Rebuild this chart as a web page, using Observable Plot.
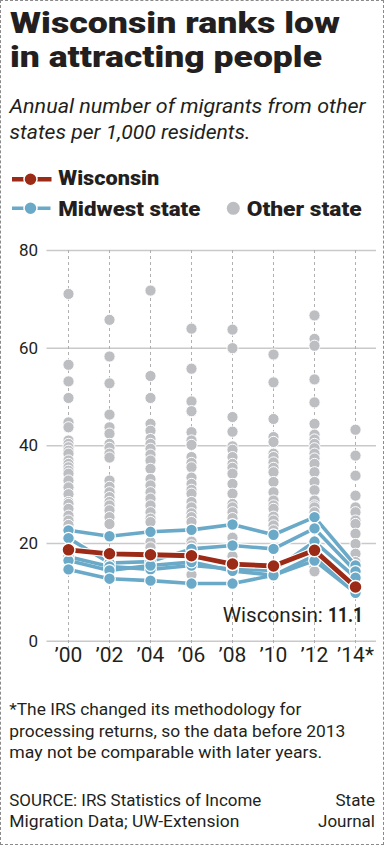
<!DOCTYPE html>
<html><head><meta charset="utf-8">
<script src="https://cdn.jsdelivr.net/npm/d3@7"></script>
<script src="https://cdn.jsdelivr.net/npm/@observablehq/plot@0.6"></script>
<style>
body{margin:0;background:#fff;}
#wrap{position:relative;width:385px;height:846px;overflow:hidden;font-family:Roboto,"Liberation Sans",sans-serif;color:#231f20;background:#fff;}
#border{position:absolute;left:0;top:0;width:382px;height:843px;border:1px dashed #8a8a8a;pointer-events:none;}
svg text{font-family:Roboto,"Liberation Sans",sans-serif;fill:#231f20;}
</style></head><body>
<div id="wrap">
<svg id="head" width="385" height="240" style="position:absolute;left:0;top:0">
  <text x="10" y="33.3" font-size="29" font-weight="900" textLength="330" lengthAdjust="spacingAndGlyphs">Wisconsin ranks low</text>
  <text x="10" y="66.7" font-size="29" font-weight="900" textLength="312" lengthAdjust="spacingAndGlyphs">in attracting people</text>
  <text x="9.5" y="112.7" font-size="20" font-style="italic" font-weight="400" textLength="356" lengthAdjust="spacingAndGlyphs">Annual number of migrants from other</text>
  <text x="9.5" y="139.3" font-size="20" font-style="italic" font-weight="400" textLength="241" lengthAdjust="spacingAndGlyphs">states per 1,000 residents.</text>
  <line x1="12" x2="51.5" y1="179.3" y2="179.3" stroke="#9b2a17" stroke-width="4.5"/>
  <circle cx="30.5" cy="179.3" r="6.5" fill="#9b2a17" stroke="#fff" stroke-width="1.5"/>
  <text x="58.3" y="185" font-size="21" font-weight="900" textLength="101" lengthAdjust="spacingAndGlyphs">Wisconsin</text>
  <line x1="12" x2="50.5" y1="208.3" y2="208.3" stroke="#6aaac8" stroke-width="3.5"/>
  <circle cx="30.5" cy="208.3" r="6.5" fill="#6aaac8" stroke="#fff" stroke-width="1.5"/>
  <text x="58.3" y="216" font-size="21" font-weight="900" textLength="142" lengthAdjust="spacingAndGlyphs">Midwest state</text>
  <circle cx="233.3" cy="208.3" r="6.5" fill="#bdbec2"/>
  <text x="246.7" y="216" font-size="21" font-weight="900" textLength="115" lengthAdjust="spacingAndGlyphs">Other state</text>
</svg>
<div id="chart" style="position:absolute;left:0;top:240px"></div>
<svg id="foot" width="385" height="166" style="position:absolute;left:0;top:680px">
  <text x="9.3" y="35" font-size="16.5" textLength="292" lengthAdjust="spacingAndGlyphs">*The IRS changed its methodology for</text>
  <text x="9.3" y="56.7" font-size="16.5" textLength="336" lengthAdjust="spacingAndGlyphs">processing returns, so the data before 2013</text>
  <text x="9.3" y="78.3" font-size="16.5" textLength="313" lengthAdjust="spacingAndGlyphs">may not be comparable with later years.</text>
  <text x="9.3" y="126" font-size="17" textLength="252" lengthAdjust="spacingAndGlyphs">SOURCE: IRS Statistics of Income</text>
  <text x="9.3" y="147.3" font-size="17" textLength="230" lengthAdjust="spacingAndGlyphs">Migration Data; UW-Extension</text>
  <text x="375" y="126" font-size="17" text-anchor="end">State</text>
  <text x="375" y="147.3" font-size="17" text-anchor="end">Journal</text>
</svg>
<div id="border"></div>
</div>
<script>
const years = ["’00","’02","’04","’06","’08","’10","’12","’14*"];
const yTicks = [0, 20, 40, 60, 80];

const wisconsin = [18.7, 17.9, 17.7, 17.5, 15.8, 15.4, 18.6, 11.1];

const midwest1 = [22.7, 21.5, 22.4, 22.8, 23.9, 21.8, 25.4, 15.5];
const midwest2 = [21.1, 16.0, 16.3, 18.9, 19.6, 18.9, 23.1, 14.3];
const midwest3 = [17.3, 15.3, 14.7, 15.5, 14.8, 14.5, 20.4, 13.0];
const midwest4 = [16.5, 14.5, 15.5, 16.2, 14.4, 13.5, 17.5, 10.2];
const midwest5 = [14.7, 12.8, 12.4, 11.8, 11.8, 13.5, 16.5, 9.9];

const other00 = [71.1, 56.6, 53.2, 49.8, 44.8, 43.8, 41.1, 40.4, 39.7, 39.0, 38.4, 37.0, 36.3, 35.6, 34.9, 34.3, 32.9, 31.5, 30.1, 28.5, 28.1, 27.1, 25.7, 24.7, 23.8];
const other02 = [65.8, 58.3, 52.8, 46.4, 43.8, 42.5, 40.4, 39.6, 38.4, 37.6, 32.9, 31.6, 30.5, 29.5, 28.5, 27.8, 26.8, 25.4, 24.0];
const other04 = [71.8, 54.3, 49.8, 44.5, 43.1, 41.4, 40.4, 39.4, 38.2, 37.0, 35.3, 33.2, 31.9, 30.5, 29.2, 27.8, 26.4, 25.1, 24.4, 20.3, 19.2];
const other06 = [64.0, 55.8, 49.1, 47.1, 42.8, 41.1, 40.2, 37.7, 36.5, 35.6, 33.5, 32.2, 31.0, 30.2, 28.5, 27.4, 26.2, 25.4, 24.4, 20.4, 19.6, 13.6];
const other08 = [63.8, 60.0, 45.9, 42.9, 39.9, 39.2, 37.7, 36.3, 35.5, 34.3, 32.2, 30.2, 28.1, 27.4, 26.4, 25.2, 21.2, 17.4];
const other10 = [58.7, 53.0, 45.5, 41.8, 40.8, 38.4, 37.7, 36.6, 35.5, 34.6, 32.6, 30.5, 28.8, 27.8, 27.1, 25.5, 24.7, 23.7, 22.7];
const other12 = [66.7, 61.9, 60.5, 53.6, 48.9, 44.5, 42.3, 41.3, 40.4, 39.5, 38.4, 37.4, 36.3, 34.6, 32.6, 30.9, 28.8, 27.8, 27.4, 26.4, 15.2, 14.3];
const other14 = [43.3, 38.0, 33.9, 29.8, 27.4, 26.4, 24.7, 24.0, 22.0, 19.9, 17.9, 16.2];

const RED = "#9b2a17", BLUE = "#6aaac8", GRAY = "#bdbec2";

const midwestSeries = [midwest1, midwest2, midwest3, midwest4, midwest5];
const otherByYear = [other00, other02, other04, other06, other08, other10, other12, other14];

const otherRows = otherByYear.flatMap((vals, i) => vals.map(v => ({year: years[i], value: v})));
const midRows = midwestSeries.flatMap((s, k) => s.map((v, i) => ({year: years[i], value: v, state: k})));
const wiRows = wisconsin.map((v, i) => ({year: years[i], value: v}));
const wiLast = [wiRows[wiRows.length - 1]];

const chart = Plot.plot({
  width: 385,
  height: 440,
  marginTop: 10,
  marginBottom: 39.3,
  marginLeft: 46.5,
  marginRight: 9,
  style: {fontFamily: "Roboto, 'Liberation Sans', sans-serif", background: "transparent", overflow: "visible", color: "#231f20"},
  x: {type: "point", domain: years, padding: 0.5, axis: null},
  y: {domain: [0, 80], axis: null},
  marks: [
    Plot.ruleY(yTicks, {stroke: "#c9c9c9", strokeWidth: 1.5}),
    Plot.ruleX(years, {x: d => d, y1: 80, y2: -1.6, stroke: "#b0b0b0", strokeWidth: 1, strokeDasharray: "3,3"}),
    Plot.text(yTicks, {y: d => d, frameAnchor: "left", dx: -9, textAnchor: "end", fontSize: 17, fill: "#231f20"}),
    Plot.text(years, {x: d => d, frameAnchor: "bottom", dy: 21, fontSize: 21, fill: "#231f20"}),
    Plot.dot(otherRows, {x: "year", y: "value", r: 5.6, fill: GRAY, stroke: "#fff", strokeWidth: 1}),
    Plot.line(midRows, {x: "year", y: "value", z: "state", stroke: "#fff", strokeWidth: 6}),
    Plot.line(midRows, {x: "year", y: "value", z: "state", stroke: BLUE, strokeWidth: 3.6}),
    Plot.dot(midRows, {x: "year", y: "value", r: 5.8, fill: BLUE, stroke: "#fff", strokeWidth: 1.2}),
    Plot.line(wiRows, {x: "year", y: "value", stroke: "#fff", strokeWidth: 7}),
    Plot.line(wiRows, {x: "year", y: "value", stroke: RED, strokeWidth: 4.8}),
    Plot.dot(wiRows, {x: "year", y: "value", r: 6.5, fill: RED, stroke: "#fff", strokeWidth: 1.5}),
    Plot.text(wiLast, {x: "year", y: "value", text: () => "Wisconsin:", textAnchor: "end", dx: -32.7, dy: 28, fontSize: 21, fill: "#231f20"}),
    Plot.text(wiLast, {x: "year", y: "value", text: d => d.value.toFixed(1), textAnchor: "end", dx: 7.6, dy: 28, fontSize: 21, fontWeight: 700, fill: "#231f20"})
  ]
});
document.getElementById("chart").appendChild(chart);
d3.select(chart).selectAll("text")
  .filter(function() { return this.textContent === "Wisconsin:"; })
  .attr("textLength", 100).attr("lengthAdjust", "spacingAndGlyphs");
d3.select(chart).selectAll("text")
  .filter(function() { return this.textContent === wisconsin[wisconsin.length - 1].toFixed(1); })
  .attr("textLength", 35).attr("lengthAdjust", "spacingAndGlyphs");
</script>
</body></html>
